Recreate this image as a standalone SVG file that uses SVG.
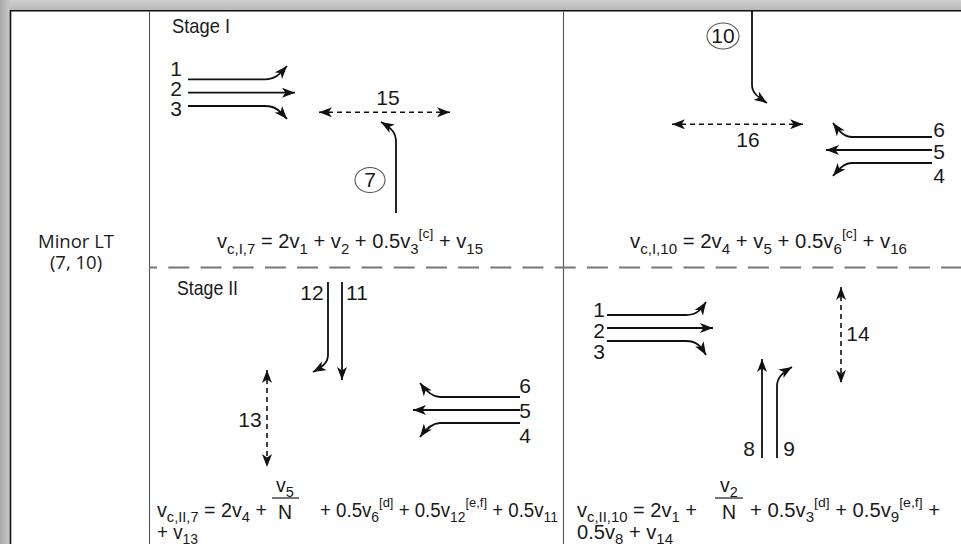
<svg xmlns="http://www.w3.org/2000/svg" width="961" height="544" viewBox="0 0 961 544">
<defs>
<marker id="ah" viewBox="0 0 13 10" refX="13" refY="5" markerWidth="13" markerHeight="10" markerUnits="userSpaceOnUse" orient="auto-start-reverse">
<path d="M0,0 L13,5 L0,10 L3.5,5 z" fill="#111"/>
</marker>
<linearGradient id="gt" x1="0" y1="0" x2="0" y2="1"><stop offset="0" stop-color="#d0d0d0"/><stop offset="1" stop-color="#b8b8b8"/></linearGradient>
<linearGradient id="gl" x1="0" y1="0" x2="1" y2="0"><stop offset="0" stop-color="#a8a8a8"/><stop offset="1" stop-color="#c8c8c8"/></linearGradient>
</defs>
<style>
.fr{fill:none;stroke:#111;stroke-width:1.6}
.dv{fill:none;stroke:#555;stroke-width:1.1}
.dh{fill:none;stroke:#777;stroke-width:1.8;stroke-dasharray:21 11.2;stroke-dashoffset:12.9}
.ar{fill:none;stroke:#111;stroke-width:1.8;marker-end:url(#ah)}
.da{fill:none;stroke:#111;stroke-width:1.6;stroke-dasharray:5 4;marker-start:url(#ah);marker-end:url(#ah)}
.t{font-family:"Liberation Sans",Arial,sans-serif;fill:#1a1a1a;font-size:21px}
.n{font-family:"Liberation Sans",Arial,sans-serif;fill:#1a1a1a;font-size:21px;text-anchor:middle}
.f{font-family:"Liberation Sans",Arial,sans-serif;fill:#1a1a1a;font-size:19.5px}
.s{font-size:14.5px}
.p{font-size:13.5px}
.m{font-family:"Open Sans","Noto Sans",sans-serif;fill:#1a1a1a;font-size:18.5px;text-anchor:middle}
.c{fill:none;stroke:#555;stroke-width:1.1}
</style>
<rect x="0" y="0" width="961" height="544" fill="#fff"/>
<rect x="0" y="0" width="961" height="10" fill="url(#gt)"/>
<rect x="0" y="0" width="10" height="544" fill="url(#gl)"/>
<g id="frame">
<path class="fr" d="M10.5,544 V10.8 H961"/>
<path class="dv" d="M149.5,11 V544"/>
<path class="dv" d="M563.5,11 V544"/>
<path class="dh" d="M149,267.5 H961"/>
</g>
<g id="row-label">
<text class="m" x="76" y="248">Minor LT</text>
<text class="m" x="76" y="269">(7, 10)</text>
</g>
<g id="stage1-left">
<text class="t" x="172" y="33" textLength="58" lengthAdjust="spacingAndGlyphs">Stage I</text>
<text class="n" x="176" y="76">1</text>
<text class="n" x="176" y="96">2</text>
<text class="n" x="176" y="116">3</text>
<text class="n" x="388" y="105">15</text>
<ellipse class="c" cx="370" cy="180" rx="15" ry="12.5"/>
<text class="n" x="370" y="187">7</text>
<text class="f" x="217" y="248" textLength="266" lengthAdjust="spacingAndGlyphs">v<tspan class="s" dy="6">c,I,7</tspan><tspan dy="-6"> = 2v</tspan><tspan class="s" dy="6">1</tspan><tspan dy="-6"> + v</tspan><tspan class="s" dy="6">2</tspan><tspan dy="-6"> + 0.5v</tspan><tspan class="s" dy="6">3</tspan><tspan class="p" dy="-16">[c]</tspan><tspan dy="10"> + v</tspan><tspan class="s" dy="6">15</tspan></text>
</g>
<g id="stage1-right">
<ellipse class="c" cx="723" cy="36" rx="16" ry="13"/>
<text class="n" x="723" y="43">10</text>
<text class="n" x="748" y="147">16</text>
<text class="n" x="939" y="137">6</text>
<text class="n" x="939" y="159">5</text>
<text class="n" x="939" y="183">4</text>
<text class="f" x="630" y="248" textLength="277" lengthAdjust="spacingAndGlyphs">v<tspan class="s" dy="6">c,I,10</tspan><tspan dy="-6"> = 2v</tspan><tspan class="s" dy="6">4</tspan><tspan dy="-6"> + v</tspan><tspan class="s" dy="6">5</tspan><tspan dy="-6"> + 0.5v</tspan><tspan class="s" dy="6">6</tspan><tspan class="p" dy="-16">[c]</tspan><tspan dy="10"> + v</tspan><tspan class="s" dy="6">16</tspan></text>
</g>
<g id="stage2-left">
<text class="t" x="177" y="295" textLength="61" lengthAdjust="spacingAndGlyphs">Stage II</text>
<text class="n" x="312" y="300">12</text>
<text class="n" x="357" y="300">11</text>
<text class="n" x="250" y="427">13</text>
<text class="n" x="525" y="393">6</text>
<text class="n" x="525" y="418">5</text>
<text class="n" x="525" y="443">4</text>
<text class="f" x="157" y="517" textLength="110" lengthAdjust="spacingAndGlyphs">v<tspan class="s" dy="5">c,II,7</tspan><tspan dy="-5"> = 2v</tspan><tspan class="s" dy="5">4</tspan><tspan dy="-5"> +</tspan></text>
<text class="f" x="285" y="492" text-anchor="middle">v<tspan class="s" dy="5">5</tspan></text>
<path d="M272,498 H299" stroke="#1a1a1a" stroke-width="1.2"/>
<text class="f" x="285" y="519" text-anchor="middle">N</text>
<text class="f" x="320" y="517" textLength="238" lengthAdjust="spacingAndGlyphs">+ 0.5v<tspan class="s" dy="5">6</tspan><tspan class="p" dy="-15">[d]</tspan><tspan dy="10"> + 0.5v</tspan><tspan class="s" dy="5">12</tspan><tspan class="p" dy="-15">[e,f]</tspan><tspan dy="10"> + 0.5v</tspan><tspan class="s" dy="5">11</tspan></text>
<text class="f" x="157" y="539" textLength="41" lengthAdjust="spacingAndGlyphs">+ v<tspan class="s" dy="5">13</tspan></text>
</g>
<g id="stage2-right">
<text class="n" x="599" y="317">1</text>
<text class="n" x="599" y="338">2</text>
<text class="n" x="599" y="359">3</text>
<text class="n" x="749" y="456">8</text>
<text class="n" x="789" y="456">9</text>
<text class="n" x="858" y="341">14</text>
<text class="f" x="577" y="517" textLength="120" lengthAdjust="spacingAndGlyphs">v<tspan class="s" dy="5">c,II,10</tspan><tspan dy="-5"> = 2v</tspan><tspan class="s" dy="5">1</tspan><tspan dy="-5"> +</tspan></text>
<text class="f" x="729" y="492" text-anchor="middle">v<tspan class="s" dy="5">2</tspan></text>
<path d="M715,498 H743" stroke="#1a1a1a" stroke-width="1.2"/>
<text class="f" x="729" y="519" text-anchor="middle">N</text>
<text class="f" x="750" y="517" textLength="190" lengthAdjust="spacingAndGlyphs">+ 0.5v<tspan class="s" dy="5">3</tspan><tspan class="p" dy="-15">[d]</tspan><tspan dy="10"> + 0.5v</tspan><tspan class="s" dy="5">9</tspan><tspan class="p" dy="-15">[e,f]</tspan><tspan dy="10"> +</tspan></text>
<text class="f" x="577" y="539" textLength="96" lengthAdjust="spacingAndGlyphs">0.5v<tspan class="s" dy="5">8</tspan><tspan dy="-5"> + v</tspan><tspan class="s" dy="5">14</tspan></text>
</g>
<g id="connectors">
<path class="ar" d="M188,79.3 H265 C275,79.3 279,75 287,66"/>
<path class="ar" d="M188,92.7 H295"/>
<path class="ar" d="M188,106 H265 C275,106 279,110 287,119"/>
<path class="da" d="M319,112.3 H450"/>
<path class="ar" d="M396,213 V142 C396,132 391,128 381,122"/>
<path class="ar" d="M752,11 V85 C752,93 758,97 767,103"/>
<path class="da" d="M672,124.3 H803"/>
<path class="ar" d="M932,137 H852 C844,137 839,131 833,123"/>
<path class="ar" d="M932,150 H826"/>
<path class="ar" d="M932,163 H852 C844,163 839,169 833,176"/>
<path class="ar" d="M328,282 V355 C328,363 322,367 313,372"/>
<path class="ar" d="M342,282 V380"/>
<path class="da" d="M267,370 V467"/>
<path class="ar" d="M520,397 H440 C432,397 426,391 420,383"/>
<path class="ar" d="M520,410 H413"/>
<path class="ar" d="M520,423 H440 C432,423 426,429 420,437"/>
<path class="ar" d="M607,315 H686 C696,315 700,311 706,302"/>
<path class="ar" d="M607,328 H713"/>
<path class="ar" d="M607,341 H686 C696,341 700,345 706,355"/>
<path class="ar" d="M762,458 V359"/>
<path class="ar" d="M777,458 V386 C777,378 782,373 792,367"/>
<path class="da" d="M841,287 V383"/>
</g>
</svg>
